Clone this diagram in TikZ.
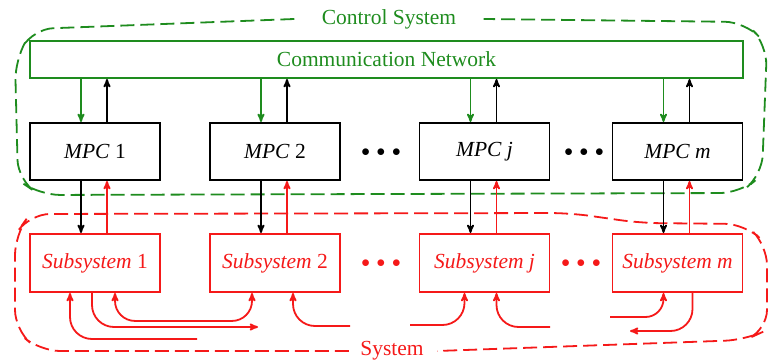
\documentclass[tikz,border=0pt]{standalone}
\usepackage{fontspec}
\setmainfont{Liberation Serif}
\usepackage{tikz}
\usetikzlibrary{arrows,calc,positioning}

\definecolor{ctrlgreen}{RGB}{30,140,30}
\definecolor{sysred}{RGB}{245,25,25}

\begin{document}
\begin{tikzpicture}
[
	              x = 1pt, y = -1pt,
	             >= stealth',
	           font = \fontsize{21.5}{25}\selectfont,
	  netbox/.style = { draw=ctrlgreen, text=ctrlgreen, line width=1.9pt, minimum width=713pt, minimum height=37pt, inner sep=0pt },
	  mpcbox/.style = { draw=black, line width=1.9pt, minimum width=130pt, minimum height=57pt, inner sep=0pt },
	  subbox/.style = { draw=sysred, text=sysred, line width=1.9pt, minimum width=130pt, minimum height=58pt, inner sep=0pt },
	  garrow/.style = { ->, draw=ctrlgreen, line width=1.8pt },
	  barrow/.style = { ->, draw=black, line width=1.8pt },
	  rarrow/.style = { ->, draw=sysred, line width=1.8pt },
	    dots/.style = { font=\fontsize{16}{18}\selectfont },
	 gborder/.style = { draw=ctrlgreen, line width=1.8pt, dash pattern=on 14pt off 6pt, rounded corners=20pt },
	 rborder/.style = { draw=sysred, line width=1.8pt, dash pattern=on 14pt off 6pt, rounded corners=20pt }
]
	\useasboundingbox (0,0) rectangle (779,363);

	% nodes
	\node (ctrl) at (389,19)      [text=ctrlgreen] {Control System};
	\node (net)  at (386.5,59.5)  [netbox]   {Communication Network};

	\node (mpc1) at (95,151.5)    [mpcbox]   {\textit{MPC} 1};
	\node (mpc2) at (275,151.5)   [mpcbox]   {\textit{MPC} 2};
	\node (mpcj) at (484.5,151.5) [mpcbox]   {\textit{MPC j}};
	\node (mpcm) at (677.5,151.5) [mpcbox]   {\textit{MPC m}};

	\node (sub1) at (95,263)      [subbox]   {\textit{Subsystem} 1};
	\node (sub2) at (275,263)     [subbox]   {\textit{Subsystem} 2};
	\node (subj) at (484.5,263)   [subbox]   {\textit{Subsystem j}};
	\node (subm) at (677.5,263)   [subbox]   {\textit{Subsystem m}};

	\node (dotsA) at (381,153)    [dots] {$\bullet\,\bullet\,\bullet$};
	\node (dotsB) at (584,153)    [dots] {$\bullet\,\bullet\,\bullet$};
	\node (dotsC) at (381,264)    [dots, text=sysred] {$\bullet\,\bullet\,\bullet$};
	\node (dotsD) at (581,264)    [dots, text=sysred] {$\bullet\,\bullet\,\bullet$};

	\node (sys)  at (392,351)     [text=sysred] {System};

	\coordinate (in1)  at (197,339);
	\coordinate (out1) at (258,327);
	\coordinate (in2)  at (350,326);
	\coordinate (inja) at (410,325);
	\coordinate (injb) at (550,327);
	\coordinate (inm)  at (610,317);
	\coordinate (outm) at (630,331);

	% borders
	\draw [gborder] ([xshift=-24pt]ctrl.west) -- (33,29) -- (15,60) -- (18,180) -- (40,195) -- (740,193) -- (762,175) -- (767,45) -- (745,22) -- ([xshift=24pt]ctrl.east);
	\draw [rborder] ([xshift=-8pt]sys.west) -- (40,351) -- (15,330) -- (15,235) -- (30,214) -- (570,213) -- (640,223) -- (745,224) -- (767,245) -- (767,330) -- (745,340) -- ([xshift=10pt]sys.east);

	% edges
	\foreach \n in {1,2,j,m}
	{
		\draw [garrow] ([xshift=-14pt]mpc\n.north |- net.south) -- ([xshift=-14pt]mpc\n.north);
		\draw [barrow] ([xshift=12pt]mpc\n.north) -- ([xshift=12pt]mpc\n.north |- net.south);
		\draw [barrow] ([xshift=-14pt]mpc\n.south) -- ([xshift=-14pt]sub\n.north);
		\draw [rarrow] ([xshift=12pt]sub\n.north) -- ([xshift=12pt]mpc\n.south);
	}

	\draw [rarrow, rounded corners=22pt] (in1) -| ([xshift=-25pt]sub1.south);
	\draw [rarrow, rounded corners=22pt] ([xshift=-3pt]sub1.south) |- (out1);
	\draw [rarrow, <->, rounded corners=20pt] ([xshift=20pt]sub1.south) -- ++(0,28) -| ([xshift=-23pt]sub2.south);
	\draw [rarrow, rounded corners=22pt] (in2) -| ([xshift=18pt]sub2.south);
	\draw [rarrow, rounded corners=22pt] (inja) -| ([xshift=-20pt]subj.south);
	\draw [rarrow, rounded corners=22pt] (injb) -| ([xshift=12pt]subj.south);
	\draw [rarrow, rounded corners=18pt] (inm) -| ([xshift=-14pt]subm.south);
	\draw [rarrow, rounded corners=22pt] ([xshift=15pt]subm.south) |- (outm);

\end{tikzpicture}
\end{document}
